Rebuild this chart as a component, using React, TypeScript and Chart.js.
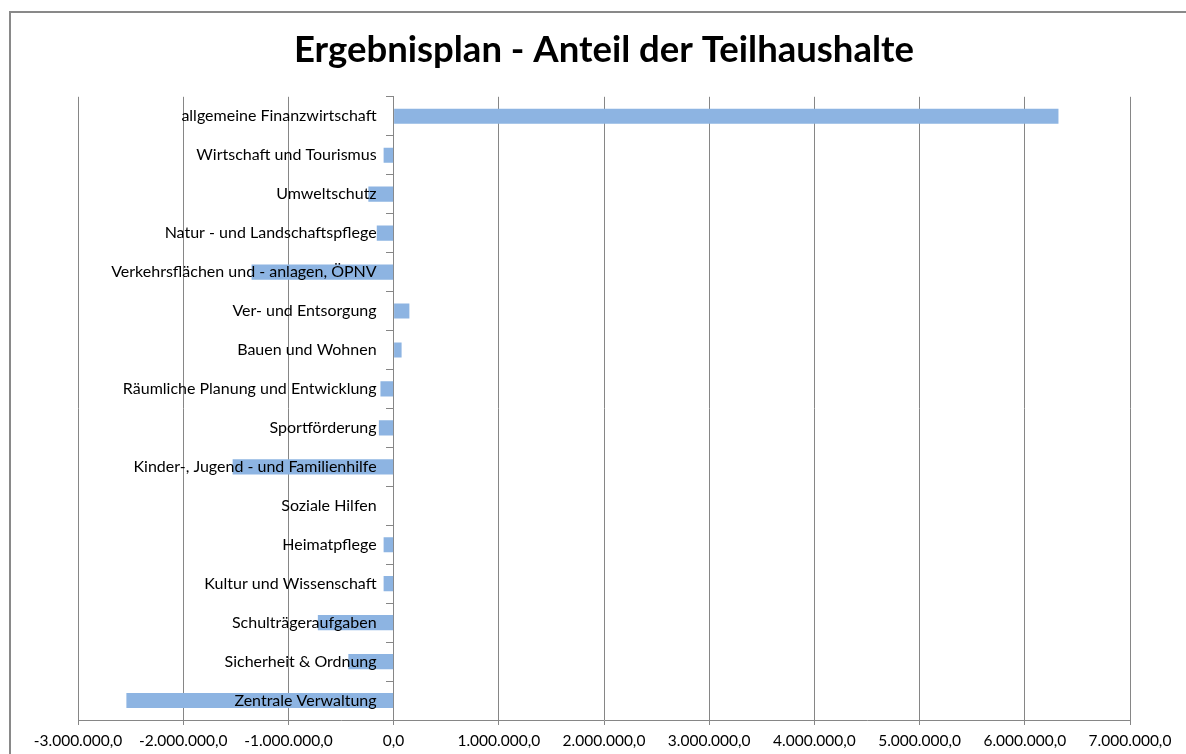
import React, { useEffect, useRef } from 'react';
import { Chart, registerables } from 'chart.js';

Chart.register(...registerables);

const chartTitle = 'Ergebnisplan - Anteil der Teilhaushalte';

const categories = [
  'allgemeine Finanzwirtschaft',
  'Wirtschaft und Tourismus',
  'Umweltschutz',
  'Natur - und Landschaftspflege',
  'Verkehrsflächen und - anlagen, ÖPNV',
  'Ver- und Entsorgung',
  'Bauen und Wohnen',
  'Räumliche Planung und Entwicklung',
  'Sportförderung',
  'Kinder-, Jugend - und Familienhilfe',
  'Soziale Hilfen',
  'Heimatpflege',
  'Kultur und Wissenschaft',
  'Schulträgeraufgaben',
  'Sicherheit & Ordnung',
  'Zentrale Verwaltung',
];

const values = [
  6320000,
  -95000,
  -240000,
  -160000,
  -1350000,
  150000,
  76000,
  -125000,
  -140000,
  -1530000,
  0,
  -95000,
  -95000,
  -720000,
  -430000,
  -2540000,
];

const xTickValues = [-3000000, -2000000, -1000000, 0, 1000000, 2000000, 3000000, 4000000, 5000000, 6000000, 7000000];

function formatDE(v: number): string {
  const neg = v < 0;
  const abs = Math.abs(v);
  const whole = Math.floor(abs);
  const frac = Math.round((abs - whole) * 10);
  const intPart = whole.toString().replace(/\B(?=(\d{3})+(?!\d))/g, '.');
  return (neg ? '-' : '') + intPart + ',' + frac;
}

const categoryLabelPlugin = {
  id: 'categoryLabels',
  afterDatasetsDraw(chart: any) {
    const ctx = chart.ctx;
    const xs = chart.scales.x;
    const ys = chart.scales.y;
    const x0 = xs.getPixelForValue(0);
    ctx.save();
    ctx.font = '16px Lato';
    ctx.fillStyle = '#000';
    ctx.textAlign = 'right';
    ctx.textBaseline = 'middle';
    (chart.data.labels as string[]).forEach((label, i) => {
      ctx.fillText(label, x0 - 17, ys.getPixelForValue(i));
    });
    ctx.restore();
  },
};

export default function App() {
  const canvasRef = useRef<HTMLCanvasElement | null>(null);

  useEffect(() => {
    if (!canvasRef.current) return;
    const chart = new Chart(canvasRef.current, {
      type: 'bar',
      data: {
        labels: categories,
        datasets: [
          {
            data: values,
            backgroundColor: '#8DB4E2',
            borderWidth: 0,
            barPercentage: 0.39,
            categoryPercentage: 1.0,
          },
        ],
      },
      options: {
        indexAxis: 'y',
        animation: false,
        responsive: false,
        devicePixelRatio: 1,
        layout: { padding: { left: 78, right: 56, top: 0, bottom: 3 } },
        plugins: {
          legend: { display: false },
          tooltip: { enabled: false },
          title: {
            display: true,
            text: chartTitle,
            color: '#000',
            font: { family: 'Lato', size: 36.5, weight: 'bold' },
            padding: { top: 28, bottom: 25 },
          },
        },
        scales: {
          x: {
            type: 'linear',
            min: -3000000,
            max: 7000000,
            afterBuildTicks: (scale: any) => {
              scale.ticks = xTickValues.map((v) => ({ value: v }));
            },
            afterFit: (scale: any) => {
              scale.height = 31;
            },
            ticks: {
              callback: (v: any) => formatDE(Number(v)),
              color: '#000',
              font: { family: 'Lato', size: 15.5 },
              padding: 7,
              maxRotation: 0,
              autoSkip: false,
            },
            grid: { color: '#868686', tickLength: 5, drawTicks: true },
            border: { color: '#868686' },
          },
          y: {
            position: { x: 0 } as any,
            grid: { drawOnChartArea: false, color: '#868686', tickLength: 7, offset: true },
            border: { color: '#868686' },
            ticks: { display: false },
          },
        },
      } as any,
      plugins: [categoryLabelPlugin],
    });
    return () => chart.destroy();
  }, []);

  return (
    <div style={{ position: 'absolute', left: 0, top: 0, width: 1186, height: 754, overflow: 'hidden', background: '#fff' }}>
      <canvas ref={canvasRef} width={1186} height={754} style={{ position: 'absolute', left: 0, top: 0, width: 1186, height: 754 }} />
      <div
        style={{
          position: 'absolute',
          left: 9,
          top: 11,
          width: 1200,
          height: 800,
          border: '2px solid #898989',
          pointerEvents: 'none',
        }}
      />
    </div>
  );
}
